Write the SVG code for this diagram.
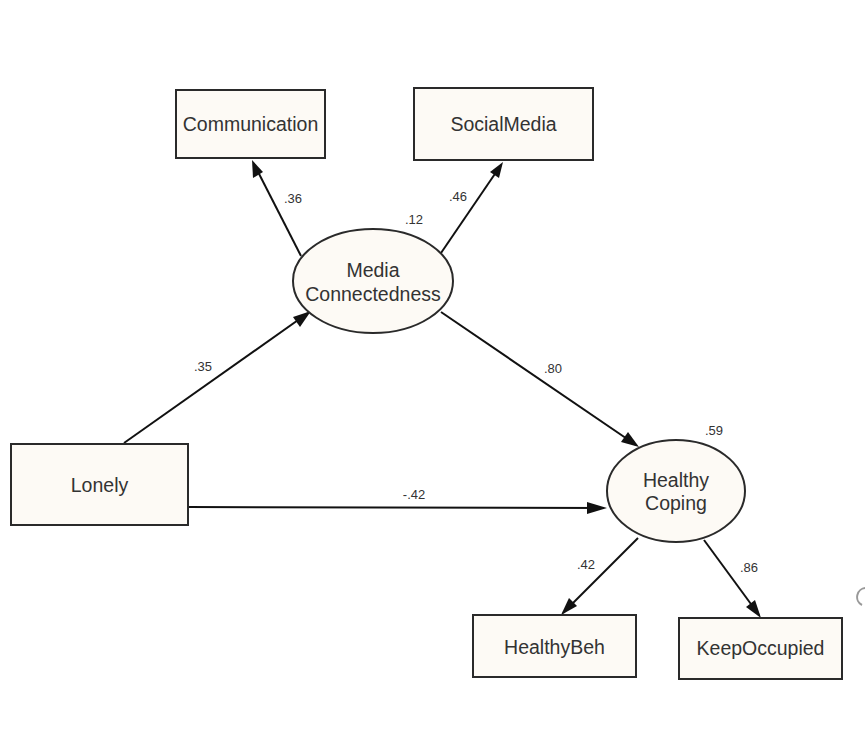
<svg xmlns="http://www.w3.org/2000/svg" width="865" height="731" viewBox="0 0 865 731">
<defs>
<style>
.box{fill:#fdfaf5;stroke:#2a2a2a;stroke-width:2}
.lbl{font-family:"Liberation Sans",Arial,sans-serif;font-size:19.5px;fill:#333;text-anchor:middle}
.num{font-family:"Liberation Sans",Arial,sans-serif;font-size:13px;fill:#333;text-anchor:middle}
.edge{stroke:#111;stroke-width:2;fill:none}
.head{fill:#111}
</style>
</defs>
<rect width="865" height="731" fill="#fff"/>
<g id="connectors">
<line class="edge" x1="301" y1="256" x2="254" y2="164"/>
<path class="head" d="M252,160 L253,178 L263,172 z"/>
<line class="edge" x1="441" y1="253" x2="501" y2="165"/>
<path class="head" d="M503,162 L490,172 L499,178 z"/>
<line class="edge" x1="124" y1="443" x2="308" y2="313"/>
<path class="head" d="M311,311 L293,317 L300,327 z"/>
<line class="edge" x1="441" y1="312" x2="636" y2="445"/>
<path class="head" d="M639,447 L628,432 L621,442 z"/>
<line class="edge" x1="188" y1="507" x2="604" y2="508"/>
<path class="head" d="M607,508 L587,502 L587,514 z"/>
<line class="edge" x1="638" y1="538" x2="563" y2="613"/>
<path class="head" d="M561,615 L577,606 L569,598 z"/>
<line class="edge" x1="704" y1="540" x2="759" y2="615"/>
<path class="head" d="M761,618 L755,600 L746,607 z"/>
</g>
<g id="Communication"><rect class="box" x="176" y="90" width="149" height="68"/><text class="lbl" x="250.5" y="131">Communication</text></g>
<g id="SocialMedia"><rect class="box" x="414" y="88" width="179" height="72"/><text class="lbl" x="503.5" y="131">SocialMedia</text></g>
<g id="MediaConnectedness"><ellipse class="box" cx="373" cy="281" rx="80" ry="52"/><text class="lbl" x="373" y="277">Media</text><text class="lbl" x="373" y="301">Connectedness</text></g>
<g id="Lonely"><rect class="box" x="11" y="444" width="177" height="81"/><text class="lbl" x="99.5" y="492">Lonely</text></g>
<g id="HealthyCoping"><ellipse class="box" cx="676" cy="491" rx="69" ry="51"/><text class="lbl" x="676" y="487">Healthy</text><text class="lbl" x="676" y="510">Coping</text></g>
<g id="HealthyBeh"><rect class="box" x="473" y="615" width="163" height="62"/><text class="lbl" x="554.5" y="654">HealthyBeh</text></g>
<g id="KeepOccupied"><rect class="box" x="679" y="618" width="163" height="61"/><text class="lbl" x="760.5" y="655">KeepOccupied</text></g>
<g id="labels">
<text class="num" x="293" y="203">.36</text>
<text class="num" x="458" y="201">.46</text>
<text class="num" x="414" y="224">.12</text>
<text class="num" x="203" y="371">.35</text>
<text class="num" x="553" y="373">.80</text>
<text class="num" x="714" y="435">.59</text>
<text class="num" x="414" y="499">-.42</text>
<text class="num" x="586" y="569">.42</text>
<text class="num" x="749" y="572">.86</text>
</g>
<path d="M866,588 A9,9 0 0 0 862,605" fill="none" stroke="#999" stroke-width="2"/>
</svg>
